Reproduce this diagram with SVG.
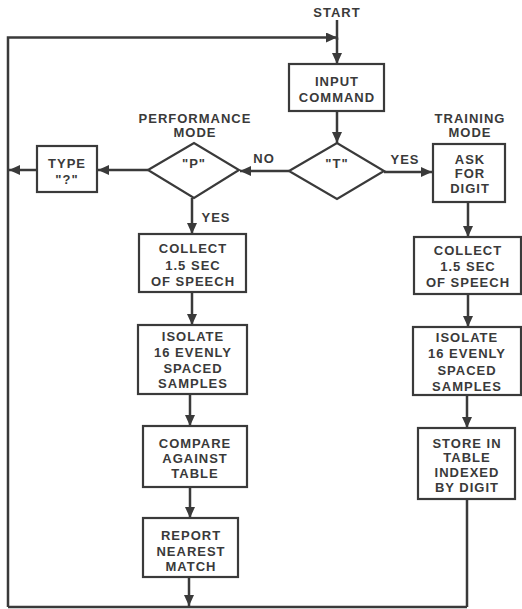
<svg xmlns="http://www.w3.org/2000/svg" width="522" height="609" viewBox="0 0 522 609">
<defs>
<marker id="ah" markerUnits="userSpaceOnUse" markerWidth="12" markerHeight="10" refX="11" refY="5" orient="auto">
<path d="M0,0 L11,5 L0,10 Z" fill="#3a3a3a"/>
</marker>
<style>
text{font-family:"Liberation Sans",Arial,sans-serif;font-weight:bold;font-size:13px;fill:#3a3a3a;text-anchor:middle;letter-spacing:1px}
.box{fill:#fff;stroke:#3a3a3a;stroke-width:2.2}
.ln{fill:none;stroke:#3a3a3a;stroke-width:2.5}
.ar{fill:none;stroke:#3a3a3a;stroke-width:2.5;marker-end:url(#ah)}
</style>
</defs>
<rect width="522" height="609" fill="#fff"/>
<g id="connectors">
<path class="ln" d="M337,20 V40"/>
<path class="ar" d="M8,607 V37.5 H337"/>
<path class="ar" d="M337,37.5 V64"/>
<path class="ar" d="M337,111 V143"/>
<path class="ar" d="M289,171 H240"/>
<path class="ar" d="M148,170 H98"/>
<path class="ar" d="M37,170 H9"/>
<path class="ar" d="M384,172 H432"/>
<path class="ar" d="M192,198 V234"/>
<path class="ar" d="M192,292 V325"/>
<path class="ar" d="M190,394 V426"/>
<path class="ar" d="M190,487 V518"/>
<path class="ar" d="M189,577 V606"/>
<path class="ln" d="M8,607 H467"/>
<path class="ar" d="M468,202 V237"/>
<path class="ar" d="M468,294 V327"/>
<path class="ar" d="M467,395 V428"/>
<path class="ln" d="M467,499 V607"/>
</g>
<g id="start"><text x="337" y="17">START</text></g>
<g id="input-command">
<rect class="box" x="289" y="64" width="95" height="47"/>
<text x="337" y="86">INPUT</text>
<text x="337" y="102">COMMAND</text>
</g>
<g id="t-decision">
<path class="box" d="M289,171 L337,143 L384,171 L337,199 Z"/>
<text x="337" y="168">"T"</text>
</g>
<g id="p-decision">
<path class="box" d="M148,170 L194,143 L239,170 L194,198 Z"/>
<text x="194" y="168">"P"</text>
</g>
<g id="performance-label"><text x="195" y="123">PERFORMANCE</text><text x="195" y="137">MODE</text></g>
<g id="training-label"><text x="470" y="123">TRAINING</text><text x="470" y="137">MODE</text></g>
<g id="no-label"><text x="264" y="163">NO</text></g>
<g id="yes-label-t"><text x="405" y="164">YES</text></g>
<g id="yes-label-p"><text x="216" y="222">YES</text></g>
<g id="type-q">
<rect class="box" x="37" y="146" width="60" height="46"/>
<text x="67" y="168">TYPE</text>
<text x="67" y="184">"?"</text>
</g>
<g id="ask-digit">
<rect class="box" x="433" y="144" width="72" height="58"/>
<text x="470" y="164">ASK</text>
<text x="470" y="178">FOR</text>
<text x="470" y="193">DIGIT</text>
</g>
<g id="collect-p">
<rect class="box" x="139" y="234" width="107" height="58"/>
<text x="193" y="253">COLLECT</text>
<text x="193" y="270">1.5 SEC</text>
<text x="193" y="286">OF SPEECH</text>
</g>
<g id="isolate-p">
<rect class="box" x="138" y="325" width="109" height="69"/>
<text x="193" y="341">ISOLATE</text>
<text x="193" y="357">16 EVENLY</text>
<text x="193" y="373">SPACED</text>
<text x="193" y="388">SAMPLES</text>
</g>
<g id="compare">
<rect class="box" x="143" y="426" width="104" height="61"/>
<text x="195" y="448">COMPARE</text>
<text x="195" y="463">AGAINST</text>
<text x="195" y="478">TABLE</text>
</g>
<g id="report">
<rect class="box" x="143" y="518" width="95" height="59"/>
<text x="191" y="540">REPORT</text>
<text x="191" y="556">NEAREST</text>
<text x="191" y="571">MATCH</text>
</g>
<g id="collect-t">
<rect class="box" x="414" y="237" width="107" height="57"/>
<text x="468" y="255">COLLECT</text>
<text x="468" y="271">1.5 SEC</text>
<text x="468" y="287">OF SPEECH</text>
</g>
<g id="isolate-t">
<rect class="box" x="413" y="327" width="108" height="68"/>
<text x="467" y="342">ISOLATE</text>
<text x="467" y="358">16 EVENLY</text>
<text x="467" y="375">SPACED</text>
<text x="467" y="391">SAMPLES</text>
</g>
<g id="store">
<rect class="box" x="418" y="428" width="97" height="71"/>
<text x="467" y="448">STORE IN</text>
<text x="467" y="462">TABLE</text>
<text x="467" y="477">INDEXED</text>
<text x="467" y="492">BY DIGIT</text>
</g>
</svg>
